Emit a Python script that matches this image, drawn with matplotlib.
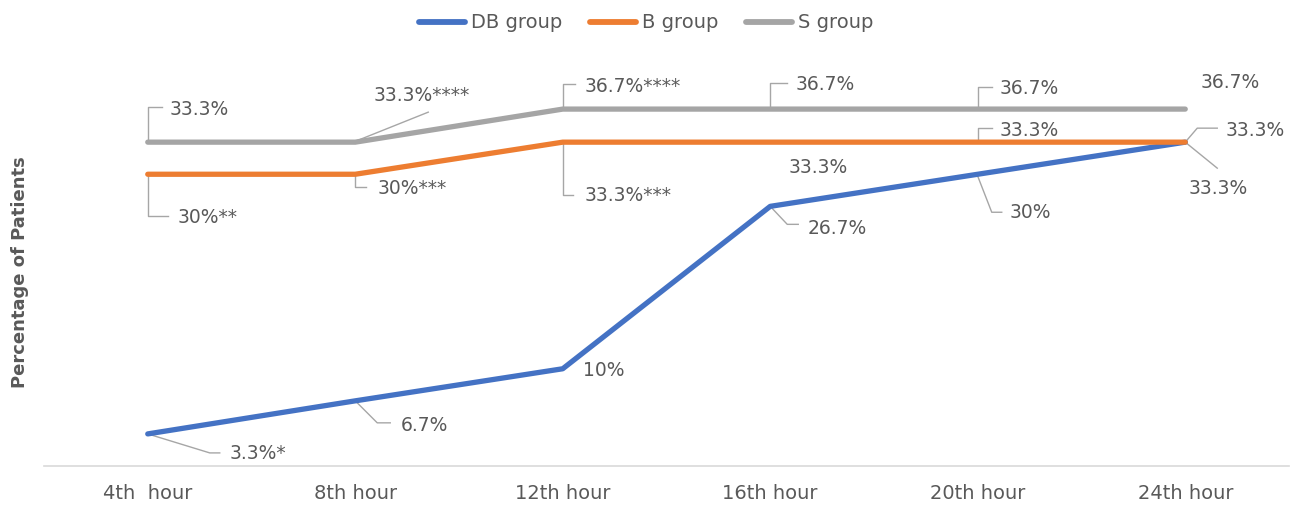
import matplotlib
matplotlib.use("Agg")
import matplotlib.pyplot as plt
from matplotlib.lines import Line2D
from matplotlib.transforms import IdentityTransform

# ---- data ----
categories = ["4th  hour", "8th hour", "12th hour", "16th hour", "20th hour", "24th hour"]
series_names = ["DB group", "B group", "S group"]
db_values = [3.3, 6.7, 10, 26.7, 30, 33.3]
b_values = [30, 30, 33.3, 33.3, 33.3, 33.3]
s_values = [33.3, 33.3, 36.7, 36.7, 36.7, 36.7]
db_labels = ["3.3%*", "6.7%", "10%", "26.7%", "30%", "33.3%"]
b_labels = ["30%**", "30%***", "33.3%***", "33.3%", "33.3%", "33.3%"]
s_labels = ["33.3%", "33.3%****", "36.7%****", "36.7%", "36.7%", "36.7%"]

colors = ["#4472C4", "#ED7D31", "#A5A5A5"]
text_color = "#595959"
leader_color = "#A6A6A6"

# label placement (pixel offsets from the point, image y downward)
db_text_off = [(82, 20), (45, 25), (20, 2), (37, 22), (32, 38), (3, 46)]
db_leaders = [[(0, 0), (62, 19), (72, 19)], [(0, 0), (22, 22), (35, 22)], None,
              [(0, 0), (17, 18), (28, 18)], [(0, 2), (14, 38), (24, 38)], [(0, 0), (32, 26)]]
b_text_off = [(30, 43), (22, 14), (22, 53), (18, 25), (22, -12), (40, -12)]
b_leaders = [[(0, 0), (0, 42), (20, 42)], [(0, 2), (0, 13), (11, 13)], [(0, 0), (0, 53), (10, 53)],
             None, [(0, -3), (0, -14), (14, -14)], [(0, 0), (12, -14), (32, -14)]]
s_text_off = [(22, -33), (18, -47), (22, -23), (25, -25), (22, -21), (15, -27)]
s_leaders = [[(0, 0), (0, -35), (14, -35)], [(3, -2), (73, -30)], [(0, 0), (0, -25), (12, -25)],
             [(0, -3), (0, -26), (17, -26)], [(0, -3), (0, -22), (14, -22)], None]

W, H = 1291, 508
fig = plt.figure(figsize=(W / 100, H / 100), dpi=100)
ax = fig.add_axes([44 / W, (H - 466) / H, (1289 - 44) / W, (466 - 77) / H])

x = list(range(len(categories)))
all_vals = [db_values, b_values, s_values]
for vals, name, c in zip(all_vals, series_names, colors):
    ax.plot(x, vals, color=c, lw=3.8, solid_capstyle="round", solid_joinstyle="round",
            label=name, zorder=3)

ax.set_xlim(-0.5, len(categories) - 0.5)
ax.set_ylim(0, 40)
ax.set_xticks(x)
ax.set_xticklabels(categories, fontsize=14, color=text_color)
ax.tick_params(axis="x", length=0, pad=13)
ax.set_yticks([])
for s in ["left", "right", "top"]:
    ax.spines[s].set_visible(False)
ax.spines["bottom"].set_color("#D9D9D9")
ax.spines["bottom"].set_linewidth(1.2)

all_labels = [db_labels, b_labels, s_labels]
all_toff = [db_text_off, b_text_off, s_text_off]
all_lead = [db_leaders, b_leaders, s_leaders]
for vals, labs, toffs, leads in zip(all_vals, all_labels, all_toff, all_lead):
    for i, (v, lab, toff, lead) in enumerate(zip(vals, labs, toffs, leads)):
        px, py = ax.transData.transform((i, v))
        if lead is not None:
            xs = [px + dx for dx, dy in lead]
            ys = [py - dy for dx, dy in lead]
            ln = Line2D(xs, ys, transform=IdentityTransform(), color=leader_color, lw=1.0, zorder=1)
            ln.set_clip_on(False)
            ax.add_artist(ln)
        fig.text(px + toff[0], py - toff[1], lab, transform=IdentityTransform(),
                 ha="left", va="center", fontsize=13.5, color=text_color)

fig.text(20 / W, 1 - 272 / H, "Percentage of Patients", rotation=90, ha="center", va="center",
         fontsize=13, fontweight="bold", color=text_color)

leg = fig.legend(loc="center", bbox_to_anchor=(646 / W, 1 - 23 / H), ncol=3, frameon=False,
                 fontsize=14, handlelength=2.4, columnspacing=1.4, handletextpad=0.3)
for t in leg.get_texts():
    t.set_color(text_color)
for h in leg.legend_handles:
    h.set_linewidth(4.2)

fig.savefig("out.png", dpi=100)
